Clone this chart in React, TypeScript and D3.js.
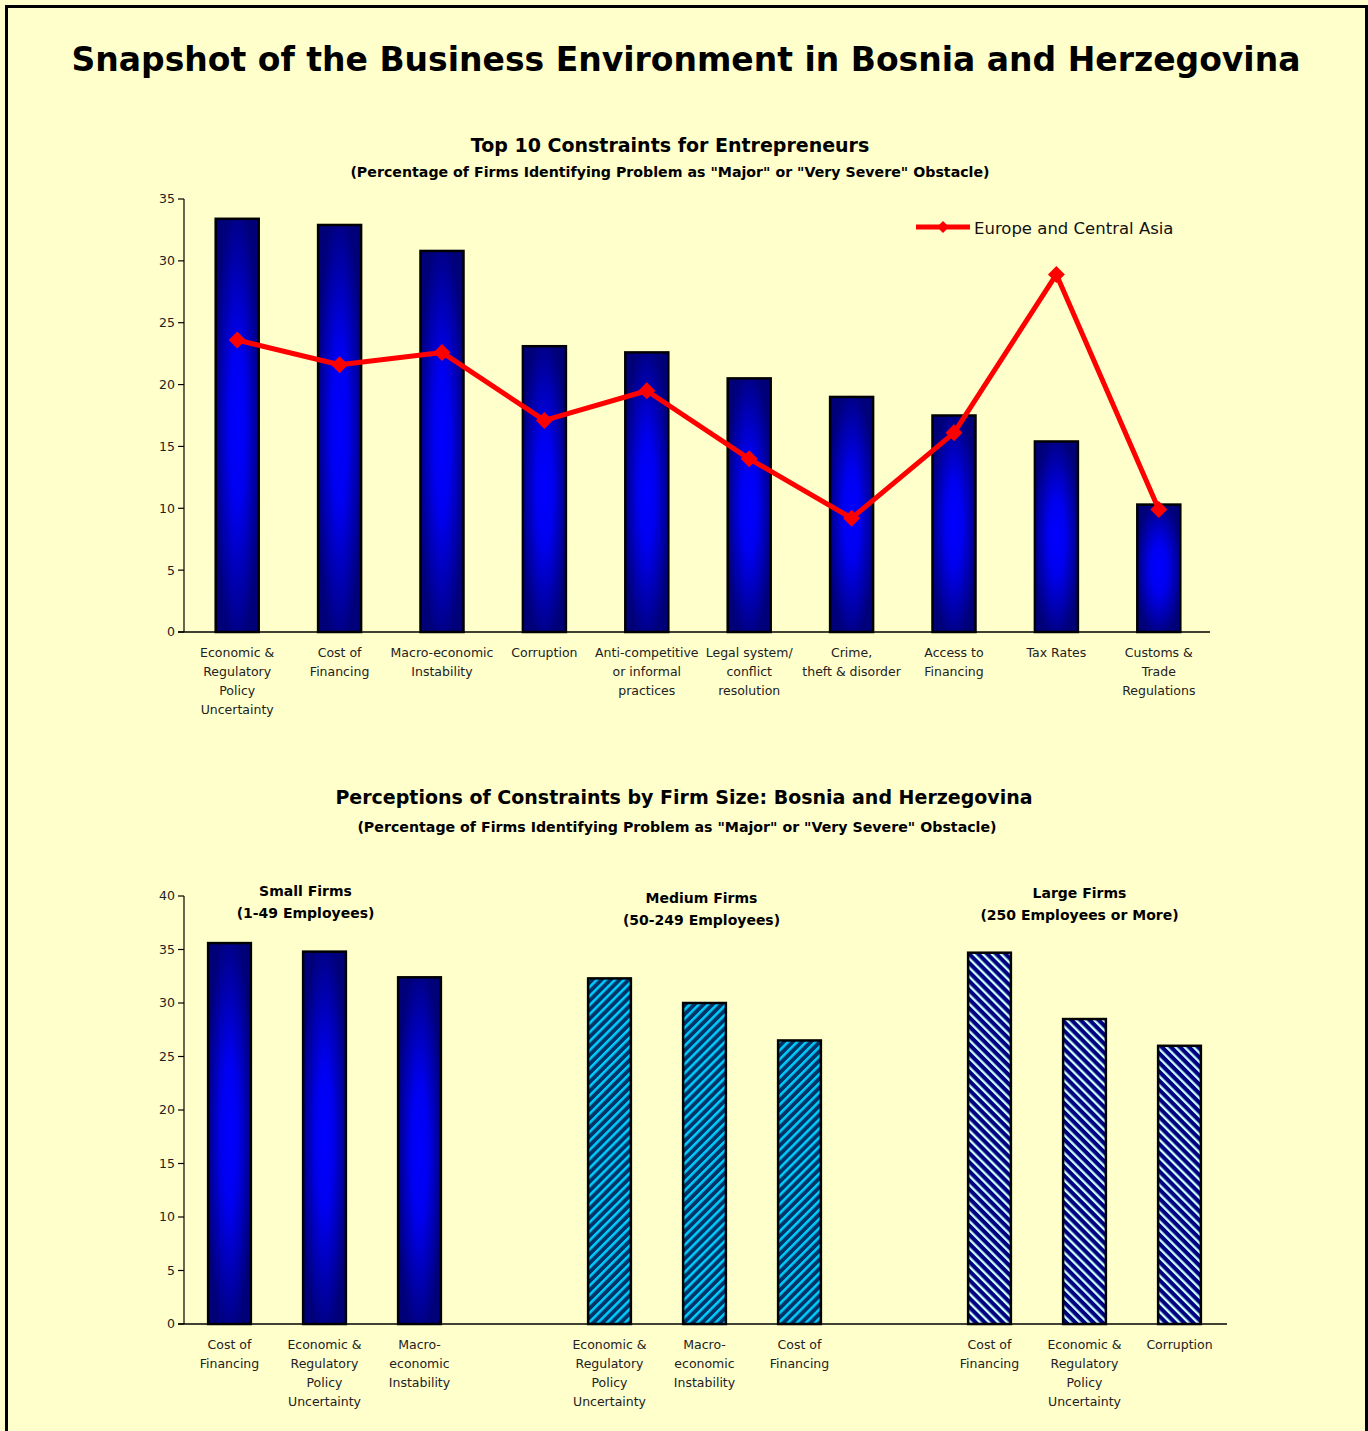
import React from "react";
import * as d3 from "d3";

// top chart: top 10 constraints
const topCategories = [
  ["Economic &", "Regulatory", "Policy", "Uncertainty"],
  ["Cost of", "Financing"],
  ["Macro-economic", "Instability"],
  ["Corruption"],
  ["Anti-competitive", "or informal", "practices"],
  ["Legal system/", "conflict", "resolution"],
  ["Crime,", "theft & disorder"],
  ["Access to", "Financing"],
  ["Tax Rates"],
  ["Customs &", "Trade", "Regulations"],
];
const bihValues = [33.4, 32.9, 30.8, 23.1, 22.6, 20.5, 19.0, 17.5, 15.4, 10.3];
const ecaValues = [23.6, 21.6, 22.6, 17.1, 19.5, 14.0, 9.2, 16.1, 28.9, 9.9];
const topTicks = [0, 5, 10, 15, 20, 25, 30, 35];

// bottom chart: by firm size
const smallCategories = [
  ["Cost of", "Financing"],
  ["Economic &", "Regulatory", "Policy", "Uncertainty"],
  ["Macro-", "economic", "Instability"],
];
const smallValues = [35.6, 34.8, 32.4];
const mediumCategories = [
  ["Economic &", "Regulatory", "Policy", "Uncertainty"],
  ["Macro-", "economic", "Instability"],
  ["Cost of", "Financing"],
];
const mediumValues = [32.3, 30.0, 26.5];
const largeCategories = [
  ["Cost of", "Financing"],
  ["Economic &", "Regulatory", "Policy", "Uncertainty"],
  ["Corruption"],
];
const largeValues = [34.7, 28.5, 26.0];
const groupTitles = [
  ["Small Firms", "(1-49 Employees)"],
  ["Medium Firms", "(50-249 Employees)"],
  ["Large Firms", "(250 Employees or More)"],
];
const bottomTicks = [0, 5, 10, 15, 20, 25, 30, 35, 40];

const FONT = "'DejaVu Sans', Verdana, sans-serif";
const W = 1368;
const H = 1431;

type Bar = { key: string; label: string[]; value: number; fill: string };

export default function App() {
  // ---- top chart scales
  const topLeft = 184;
  const topRight = 1210;
  const topBase = 632;
  const topTop = 199;
  const xTop = d3
    .scaleBand<number>()
    .domain(d3.range(topCategories.length))
    .range([186, topRight]);
  const yTop = d3.scaleLinear().domain([0, 35]).range([topBase, topTop]);
  const barW = xTop.bandwidth() * 0.42;
  const cx = (i: number) => (xTop(i) as number) + xTop.bandwidth() / 2;

  const linePath = d3
    .line<number>()
    .x((_, i) => cx(i))
    .y((d) => yTop(d))(ecaValues);
  const diamond = d3.symbol(d3.symbolSquare, 144)() as string;

  // ---- bottom chart scales
  const botBase = 1324;
  const botTop = 896;
  const botRight = 1227;
  const bars: Bar[] = [];
  smallCategories.forEach((c, i) =>
    bars.push({ key: "s" + i, label: c, value: smallValues[i], fill: "url(#barGrad)" })
  );
  mediumCategories.forEach((c, i) =>
    bars.push({ key: "m" + i, label: c, value: mediumValues[i], fill: "url(#hatchMedium)" })
  );
  largeCategories.forEach((c, i) =>
    bars.push({ key: "l" + i, label: c, value: largeValues[i], fill: "url(#hatchLarge)" })
  );
  const slots = ["s0", "s1", "s2", "gap1", "m0", "m1", "m2", "gap2", "l0", "l1", "l2"];
  const xBot = d3.scaleBand<string>().domain(slots).range([182, 1227]);
  const yBot = d3.scaleLinear().domain([0, 40]).range([botBase, botTop]);
  const botBarW = xBot.bandwidth() * 0.45;
  const bcx = (k: string) => (xBot(k) as number) + xBot.bandwidth() / 2;
  const groupCenters = [
    (bcx("s0") + bcx("s2")) / 2 - 19,
    (bcx("m0") + bcx("m2")) / 2 - 3,
    (bcx("l0") + bcx("l2")) / 2 - 5,
  ];
  const groupTitleY = [891, 898, 893];

  return (
    <svg
      width={W}
      height={H}
      style={{ position: "absolute", left: 0, top: 0 }}
      fontFamily={FONT}
    >
      <defs>
        <radialGradient id="barGrad" cx="0.5" cy="0.5" r="0.55">
          <stop offset="0" stopColor="#0000ff" />
          <stop offset="0.35" stopColor="#0000f0" />
          <stop offset="1" stopColor="#000078" />
        </radialGradient>
        <pattern
          id="hatchMedium"
          patternUnits="userSpaceOnUse"
          width={6.4}
          height={10}
          patternTransform="rotate(45)"
        >
          <rect width={6.4} height={10} fill="#003366" />
          <rect width={2.5} height={10} fill="#00ccff" />
        </pattern>
        <pattern
          id="hatchLarge"
          patternUnits="userSpaceOnUse"
          width={6.4}
          height={10}
          patternTransform="rotate(-45)"
        >
          <rect width={6.4} height={10} fill="#000080" />
          <rect width={2.3} height={10} fill="#ccffff" />
        </pattern>
      </defs>

      <rect x={0} y={0} width={W} height={H} fill="#ffffcc" />
      <rect x={6.5} y={6.5} width={1360} height={H + 20} fill="none" stroke="#000" strokeWidth={3} />

      <text x={686} y={71} textAnchor="middle" fontSize={33} fontWeight="bold">
        Snapshot of the Business Environment in Bosnia and Herzegovina
      </text>

      {/* top chart */}
      <text x={670} y={152} textAnchor="middle" fontSize={19} fontWeight="bold">
        Top 10 Constraints for Entrepreneurs
      </text>
      <text x={670} y={177} textAnchor="middle" fontSize={14.2} fontWeight="bold">
        (Percentage of Firms Identifying Problem as "Major" or "Very Severe" Obstacle)
      </text>

      <g>
        <line x1={topLeft} x2={topLeft} y1={topTop} y2={topBase} stroke="#000" strokeWidth={1.2} />
        <line x1={topLeft - 6} x2={topRight} y1={topBase} y2={topBase} stroke="#000" strokeWidth={1.5} />
        {topTicks.map((t) => (
          <g key={t} transform={`translate(0,${yTop(t)})`}>
            <line x1={topLeft - 6} x2={topLeft} stroke="#000" strokeWidth={1.2} />
            <text x={topLeft - 9} dy="0.35em" textAnchor="end" fontSize={12.5} fill="#222">
              {t}
            </text>
          </g>
        ))}
      </g>

      {bihValues.map((v, i) => (
        <rect
          key={i}
          x={cx(i) - barW / 2}
          y={yTop(v)}
          width={barW}
          height={topBase - yTop(v)}
          fill="url(#barGrad)"
          stroke="#000"
          strokeWidth={2.5}
        />
      ))}

      {topCategories.map((lines, i) => (
        <text key={i} x={cx(i)} y={657} textAnchor="middle" fontSize={12.5} fill="#222">
          {lines.map((l, j) => (
            <tspan key={j} x={cx(i)} dy={j === 0 ? 0 : 19}>
              {l}
            </tspan>
          ))}
        </text>
      ))}

      <path d={linePath as string} fill="none" stroke="#ff0000" strokeWidth={5} strokeLinejoin="round" />
      {ecaValues.map((v, i) => (
        <path
          key={i}
          d={diamond}
          transform={`translate(${cx(i)},${yTop(v)}) rotate(45)`}
          fill="#ff0000"
        />
      ))}

      {/* legend */}
      <line x1={916} x2={970} y1={227} y2={227} stroke="#ff0000" strokeWidth={5} />
      <path d={d3.symbol(d3.symbolSquare, 72)() as string} transform="translate(943,227) rotate(45)" fill="#ff0000" />
      <text x={974} y={234} fontSize={16.5} fill="#111">
        Europe and Central Asia
      </text>

      {/* bottom chart */}
      <text x={684} y={804} textAnchor="middle" fontSize={19} fontWeight="bold">
        Perceptions of Constraints by Firm Size: Bosnia and Herzegovina
      </text>
      <text x={677} y={832} textAnchor="middle" fontSize={14.2} fontWeight="bold">
        (Percentage of Firms Identifying Problem as "Major" or "Very Severe" Obstacle)
      </text>

      {groupTitles.map((lines, i) => (
        <text key={i} x={groupCenters[i]} y={groupTitleY[i] + 5} textAnchor="middle" fontSize={14} fontWeight="bold">
          {lines.map((l, j) => (
            <tspan key={j} x={groupCenters[i]} dy={j === 0 ? 0 : 22}>
              {l}
            </tspan>
          ))}
        </text>
      ))}

      <g>
        <line x1={184} x2={184} y1={botTop} y2={botBase} stroke="#000" strokeWidth={1.2} />
        <line x1={178} x2={botRight} y1={botBase} y2={botBase} stroke="#000" strokeWidth={1.5} />
        {bottomTicks.map((t) => (
          <g key={t} transform={`translate(0,${yBot(t)})`}>
            <line x1={178} x2={184} stroke="#000" strokeWidth={1.2} />
            <text x={175} dy="0.35em" textAnchor="end" fontSize={12.5} fill="#222">
              {t}
            </text>
          </g>
        ))}
      </g>

      {bars.map((b) => (
        <rect
          key={b.key}
          x={bcx(b.key) - botBarW / 2}
          y={yBot(b.value)}
          width={botBarW}
          height={botBase - yBot(b.value)}
          fill={b.fill}
          stroke="#000"
          strokeWidth={2.5}
        />
      ))}

      {bars.map((b) => (
        <text key={b.key} x={bcx(b.key)} y={1349} textAnchor="middle" fontSize={12.5} fill="#222">
          {b.label.map((l, j) => (
            <tspan key={j} x={bcx(b.key)} dy={j === 0 ? 0 : 19}>
              {l}
            </tspan>
          ))}
        </text>
      ))}
    </svg>
  );
}
